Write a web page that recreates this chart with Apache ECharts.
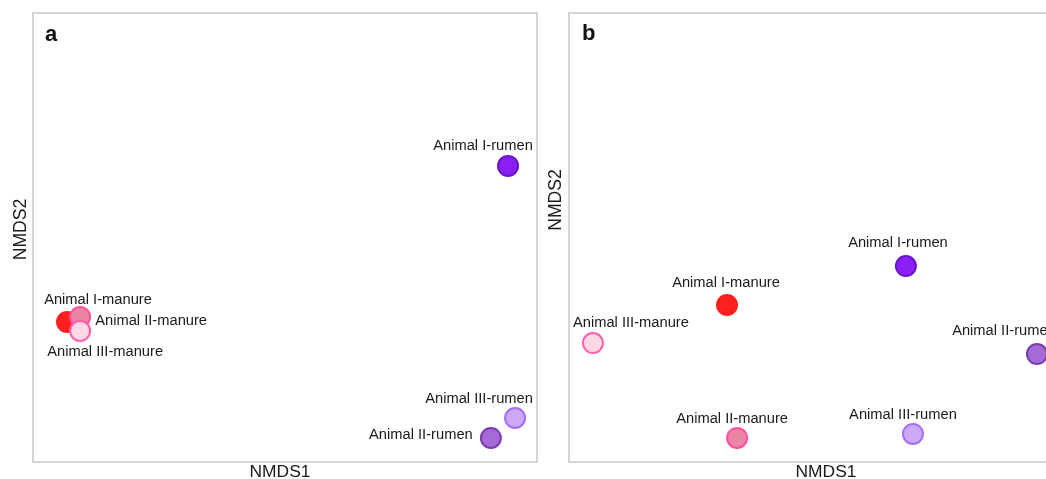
<!DOCTYPE html>
<html>
<head>
<meta charset="utf-8">
<script src="https://cdn.jsdelivr.net/npm/echarts@6/dist/echarts.min.js"></script>
<style>html,body{margin:0;padding:0;background:#fff;}#c{width:1046px;height:479px;}</style>
</head>
<body>
<div id="c"></div>
<script>
// ---- data ----
var samples = ['Animal I-manure', 'Animal II-manure', 'Animal III-manure', 'Animal I-rumen', 'Animal II-rumen', 'Animal III-rumen'];
var panelA_NMDS1 = [-0.865, -0.813, -0.813, 0.885, 0.817, 0.913];
var panelA_NMDS2 = [-0.376, -0.354, -0.416, 0.319, -0.893, -0.804];
var panelB_NMDS1 = [-0.373, -0.333, -0.905, 0.337, 0.857, 0.365];
var panelB_NMDS2 = [-0.301, -0.893, -0.470, -0.127, -0.519, -0.875];

// ---- styles ----
var fills   = ['#ff1f1f', '#ea85a3', '#ffd8e3', '#8a20f2', '#a56ad8', '#cba9f8'];
var borders = ['#ff1f1f', '#ff4fa3', '#ff5fae', '#6c14cc', '#7a3cae', '#a86ef2'];
var labelOffA = [[31, -22], [71, 4], [25, 21], [-25, -20], [-70, -3], [-36, -19]];
var labelOffB = [[-1, -22], [-5, -19], [38, -20], [-8, -23], [-33, -23], [-10, -19]];

function buildData(xs, ys, offs) {
  return samples.map(function (n, i) {
    return {
      name: n,
      value: [xs[i], ys[i]],
      itemStyle: { color: fills[i], borderColor: borders[i], borderWidth: 2, opacity: 1 },
      label: { offset: offs[i] }
    };
  });
}

var hiddenAxis = {
  type: 'value', min: -1, max: 1,
  axisLine: { show: false }, axisTick: { show: false },
  axisLabel: { show: false }, splitLine: { show: false }
};
function ax(idx) { return Object.assign({ gridIndex: idx }, hiddenAxis); }

var labelStyle = {
  show: true, position: 'inside', formatter: '{b}', opacity: 1,
  color: '#1a1a1a', fontSize: 14.7, fontFamily: 'Liberation Sans, Arial, sans-serif',
  align: 'center', verticalAlign: 'middle'
};

var chart = echarts.init(document.getElementById('c'), null, { renderer: 'canvas' });
chart.setOption({
  backgroundColor: '#fff',
  animation: false,
  grid: [
    { left: 33, top: 13, width: 504, height: 449, show: true, borderColor: '#c8c8c8', borderWidth: 1.5, backgroundColor: 'transparent', outerBoundsMode: 'none' },
    { left: 569, top: 13, width: 504, height: 449, show: true, borderColor: '#c8c8c8', borderWidth: 1.5, backgroundColor: 'transparent', outerBoundsMode: 'none' }
  ],
  xAxis: [ax(0), ax(1)],
  yAxis: [ax(0), ax(1)],
  series: [
    { type: 'scatter', xAxisIndex: 0, yAxisIndex: 0, symbolSize: 20, itemStyle: { opacity: 1 }, label: labelStyle, data: buildData(panelA_NMDS1, panelA_NMDS2, labelOffA) },
    { type: 'scatter', xAxisIndex: 1, yAxisIndex: 1, symbolSize: 20, itemStyle: { opacity: 1 }, label: labelStyle, data: buildData(panelB_NMDS1, panelB_NMDS2, labelOffB) }
  ],
  graphic: [
    { type: 'text', x: 45, y: 35, style: { text: 'a', fontSize: 22, fontWeight: 'bold', fill: '#111', fontFamily: 'Liberation Sans, Arial, sans-serif', textVerticalAlign: 'middle' } },
    { type: 'text', x: 582, y: 34, style: { text: 'b', fontSize: 22, fontWeight: 'bold', fill: '#111', fontFamily: 'Liberation Sans, Arial, sans-serif', textVerticalAlign: 'middle' } },
    { type: 'text', x: 280, y: 472, style: { text: 'NMDS1', fontSize: 17.4, fill: '#1a1a1a', fontFamily: 'Liberation Sans, Arial, sans-serif', textAlign: 'center', textVerticalAlign: 'middle' } },
    { type: 'text', x: 826, y: 472, style: { text: 'NMDS1', fontSize: 17.4, fill: '#1a1a1a', fontFamily: 'Liberation Sans, Arial, sans-serif', textAlign: 'center', textVerticalAlign: 'middle' } },
    { type: 'text', x: 21, y: 229.5, rotation: Math.PI / 2, style: { text: 'NMDS2', fontSize: 17.6, fill: '#1a1a1a', fontFamily: 'Liberation Sans, Arial, sans-serif', textAlign: 'center', textVerticalAlign: 'middle' } },
    { type: 'text', x: 556, y: 200, rotation: Math.PI / 2, style: { text: 'NMDS2', fontSize: 17.6, fill: '#1a1a1a', fontFamily: 'Liberation Sans, Arial, sans-serif', textAlign: 'center', textVerticalAlign: 'middle' } }
  ]
});
</script>
</body>
</html>
